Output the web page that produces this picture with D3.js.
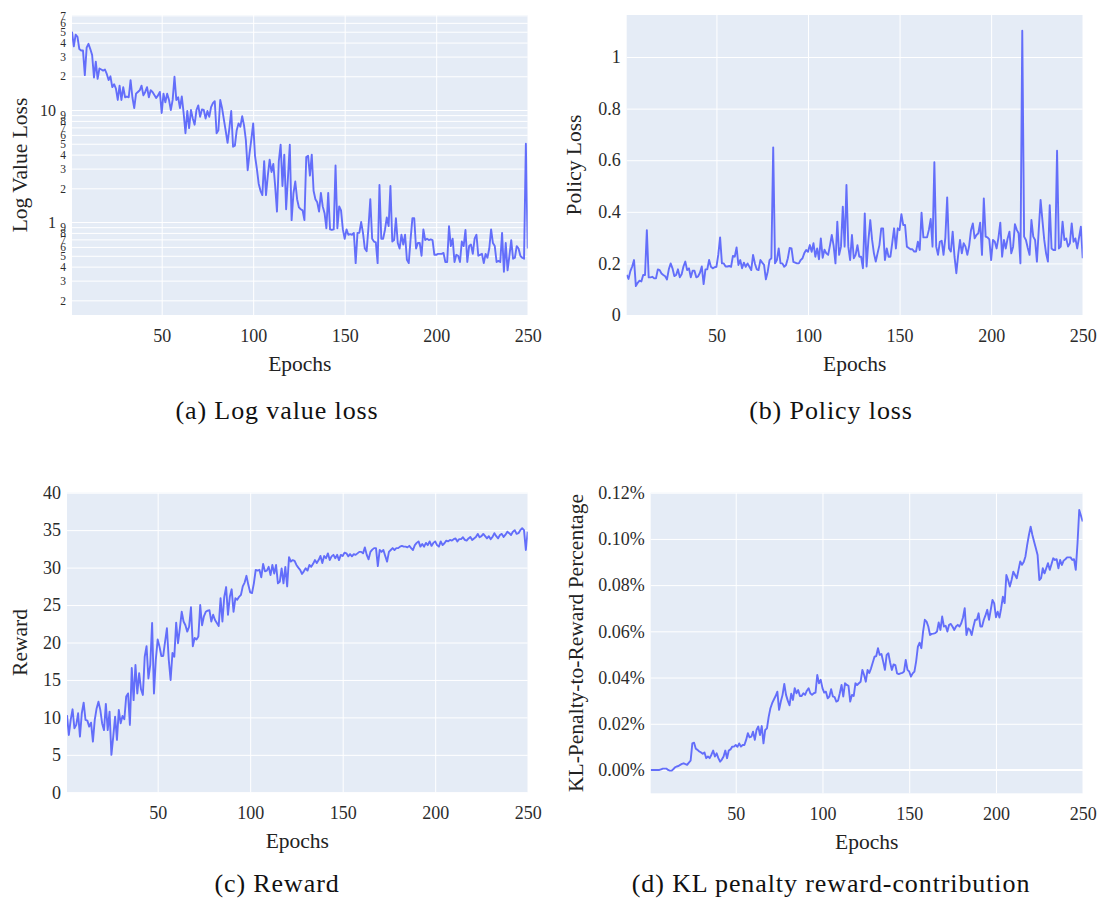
<!DOCTYPE html>
<html>
<head>
<meta charset="utf-8">
<script src="https://cdn.jsdelivr.net/npm/d3@7"></script>
<style>
  body { margin: 0; background: #fff; }
  svg { display: block; font-family: "Liberation Serif", "Times New Roman", serif; }
  svg text { font-family: "Liberation Serif", "Times New Roman", serif; }
</style>
</head>
<body>
<svg id="fig" width="1099" height="903"></svg>
<script>
// Training curves over 250 PPO epochs
const epochs = d3.range(1, 251);
const xTickValues = [50, 100, 150, 200, 250];

const valueLoss = [
  50, 37, 47, 45, 35, 34, 34, 20.5, 36, 39,
  35, 31, 19.5, 27, 19, 23.5, 23, 22.5, 23, 21,
  18.5, 20, 16, 17, 15.5, 12.3, 16.5, 12.3, 16, 13,
  13.2, 13, 18.5, 13, 10.4, 14, 14.5, 15, 16.5, 13.5,
  14.5, 16, 13, 15, 14.5, 13.6, 12.8, 13.5, 14.5, 9.4,
  14, 11.7, 14, 12.3, 10, 12.3, 19.8, 12.3, 13, 10.4,
  13.2, 9.4, 6.2, 9.8, 6.9, 10, 8.4, 7.4, 10, 11,
  8.7, 10.1, 10, 8.4, 9.8, 8.7, 10.6, 11.5, 12, 6.2,
  6.6, 12.3, 10.4, 8.2, 6.5, 5.1, 6.9, 9.8, 4.7, 4.8,
  6.6, 7.6, 7.1, 8.8, 7.3, 5.4, 2.9, 4.1, 5.5, 7.6,
  3.9, 3.0, 2.2, 1.9, 1.74, 3.5, 1.74, 2.6, 3.6, 2.8,
  3.3, 2.1, 1.24, 3.5, 4.9, 2.1, 4.0, 1.3, 2.5, 4.9,
  1.04, 1.8, 2.3, 1.6, 1.35, 1.3, 1.27, 1.04, 3.8, 3.9,
  2.6, 4.0, 1.9, 1.6, 1.5, 1.24, 1.82, 1.38, 1.2, 0.88,
  1.82, 0.86, 0.85, 0.86, 3.2, 0.88, 1.38, 1.27, 0.86, 0.71,
  0.86, 0.77, 0.78, 0.77, 0.8, 0.43, 0.8, 0.8, 1.0, 0.8,
  0.58, 0.55, 0.9, 1.6, 0.71, 0.67, 0.66, 0.43, 2.14, 0.71,
  0.71, 0.85, 1.1, 0.92, 2.1, 0.67, 0.69, 1.08, 0.65, 0.58,
  0.77, 0.63, 0.77, 0.46, 0.43, 0.7, 1.08, 1.08, 0.58, 0.65,
  0.65, 0.5, 0.86, 0.69, 0.71, 0.69, 0.7, 0.69, 0.51, 0.51,
  0.52, 0.52, 0.52, 0.53, 0.44, 0.44, 0.92, 0.61, 0.71, 0.44,
  0.51, 0.5, 0.44, 0.67, 0.61, 0.85, 0.44, 0.61, 0.63, 0.52,
  0.71, 0.77, 0.5, 0.51, 0.52, 0.43, 0.52, 0.48, 0.58, 0.86,
  0.65, 0.61, 0.44, 0.45, 0.44, 0.8, 0.36, 0.65, 0.37, 0.5,
  0.69, 0.47, 0.48, 0.61, 0.58, 0.5, 0.48, 0.47, 5.0, 0.58
];

const policyLoss = [
  0.155, 0.14, 0.17, 0.188, 0.213, 0.112, 0.125, 0.133, 0.13, 0.155,
  0.155, 0.329, 0.146, 0.146, 0.148, 0.142, 0.142, 0.177, 0.174, 0.161,
  0.155, 0.15, 0.138, 0.177, 0.2, 0.181, 0.151, 0.155, 0.177, 0.146,
  0.158, 0.188, 0.207, 0.174, 0.181, 0.146, 0.172, 0.172, 0.146, 0.15,
  0.164, 0.188, 0.12, 0.177, 0.177, 0.213, 0.187, 0.181, 0.185, 0.187,
  0.233, 0.301, 0.2, 0.2, 0.188, 0.188, 0.19, 0.187, 0.229, 0.226,
  0.262, 0.194, 0.213, 0.181, 0.203, 0.187, 0.2, 0.187, 0.174, 0.233,
  0.2, 0.177, 0.174, 0.213, 0.203, 0.194, 0.138, 0.168, 0.213, 0.22,
  0.65, 0.2, 0.213, 0.258, 0.2, 0.2, 0.187, 0.194, 0.22, 0.26,
  0.258, 0.206, 0.203, 0.2, 0.2, 0.213, 0.22, 0.24, 0.252, 0.245,
  0.271, 0.245, 0.278, 0.226, 0.258, 0.216, 0.297, 0.222, 0.253, 0.239,
  0.233, 0.27, 0.31, 0.268, 0.2, 0.362, 0.233, 0.265, 0.42, 0.265,
  0.504, 0.265, 0.213, 0.31, 0.22, 0.233, 0.271, 0.226, 0.226, 0.181,
  0.394, 0.188, 0.291, 0.368, 0.291, 0.239, 0.207, 0.24, 0.271, 0.336,
  0.336, 0.213, 0.258, 0.226, 0.226, 0.28, 0.336, 0.258, 0.336, 0.329,
  0.391, 0.349, 0.349, 0.265, 0.26, 0.255, 0.255, 0.246, 0.246, 0.284,
  0.252, 0.397, 0.301, 0.301, 0.301, 0.33, 0.372, 0.265, 0.592, 0.265,
  0.233, 0.284, 0.288, 0.233, 0.3, 0.456, 0.258, 0.246, 0.323, 0.226,
  0.162, 0.233, 0.291, 0.239, 0.278, 0.265, 0.233, 0.268, 0.329, 0.355,
  0.297, 0.31, 0.317, 0.358, 0.233, 0.452, 0.304, 0.301, 0.293, 0.213,
  0.291, 0.284, 0.258, 0.3, 0.358, 0.226, 0.291, 0.258, 0.297, 0.323,
  0.239, 0.265, 0.352, 0.33, 0.317, 0.2, 1.102, 0.304, 0.291, 0.26,
  0.233, 0.368, 0.304, 0.291, 0.207, 0.33, 0.446, 0.368, 0.291, 0.239,
  0.207, 0.426, 0.258, 0.252, 0.252, 0.637, 0.258, 0.265, 0.362, 0.291,
  0.297, 0.265, 0.278, 0.355, 0.284, 0.297, 0.258, 0.3, 0.342, 0.22
];

const reward = [
  10.3, 7.65, 9.66, 11.08, 8.55, 9.0, 10.55, 7.43, 10.55, 11.97,
  9.66, 9.57, 8.77, 9.3, 6.77, 9.66, 11.2, 12.1, 11.0, 9.2,
  8.3, 11.8, 8.3, 10.77, 5.0, 7.43, 10.1, 7.0, 11.0, 9.2,
  10.2, 9.75, 12.8, 13.2, 9.0, 16.6, 12.3, 17.0, 13.2, 15.9,
  13.75, 13.0, 18.1, 19.5, 15.2, 17.0, 22.6, 13.2, 17.7, 20.4,
  19.45, 18.2, 18.2, 20.1, 21.9, 17.7, 15.0, 18.6, 18.1, 22.65,
  19.9, 21.9, 24.1, 22.8, 22.3, 21.45, 22.1, 24.7, 19.5, 20.6,
  20.4, 20.8, 25.0, 22.3, 23.5, 24.1, 24.25, 24.3, 22.8, 23.7,
  23.0, 22.6, 22.2, 25.9, 22.8, 26.1, 27.4, 23.7, 26.1, 27.1,
  24.1, 25.9, 25.7, 26.1, 26.35, 27.5, 28.0, 28.9, 27.7, 26.7,
  26.6, 27.9, 29.7, 29.6, 29.7, 28.7, 30.5, 29.5, 29.6, 30.1,
  29.0, 30.35, 29.2, 30.35, 27.9, 28.1, 29.9, 27.9, 30.1, 27.5,
  31.4, 30.8, 31.0, 30.9, 30.35, 30.0, 29.7, 29.15, 29.5, 29.9,
  29.6, 30.35, 30.1, 30.5, 31.0, 30.6, 31.0, 31.55, 30.6, 31.55,
  31.25, 31.9, 31.0, 31.5, 31.7, 31.25, 31.7, 31.0, 31.7, 31.55,
  32.0, 31.9, 31.5, 31.8, 31.5, 31.8, 31.7, 31.9, 32.1, 32.1,
  31.9, 32.7, 31.7, 31.1, 32.1, 32.4, 32.6, 32.6, 30.2, 32.35,
  32.1, 32.35, 31.55, 30.8, 32.1, 32.35, 32.6, 32.35, 32.6, 32.6,
  32.8, 32.9, 32.8, 32.8, 32.7, 32.9, 32.6, 32.35, 33.0, 33.3,
  33.5, 32.8, 33.15, 32.8, 33.3, 33.0, 33.5, 32.9, 33.3, 33.5,
  33.0, 32.8, 33.5, 33.0, 33.25, 33.6, 33.5, 33.7, 33.6, 33.8,
  33.9, 33.5, 33.8, 33.8, 34.05, 33.7, 33.6, 33.9, 34.1, 33.7,
  33.9, 34.1, 34.5, 34.05, 34.2, 34.5, 34.2, 33.9, 34.2, 33.8,
  34.1, 34.6, 34.2, 33.9, 34.35, 34.5, 34.1, 34.4, 34.8, 34.6,
  34.35, 34.8, 35.0, 34.5, 34.6, 35.0, 35.25, 35.0, 32.35, 34.8
];

// KL penalty as a percentage of the reward
const klPenaltyPct = [
  0, 0, 0, 0, 0, 0, 0.0003, 0.0006, 0.0006, 0.0006,
  0, -0.0003, -0.0003, 0.0003, 0.0011, 0.0015, 0.0017, 0.0022, 0.0026, 0.0029,
  0.0025, 0.0022, 0.0032, 0.004, 0.0115, 0.0118, 0.0092, 0.0087, 0.008, 0.0076,
  0.007, 0.0076, 0.0051, 0.0058, 0.0051, 0.0066, 0.0084, 0.0058, 0.0072, 0.0051,
  0.0036, 0.0045, 0.0058, 0.0084, 0.0051, 0.0084, 0.0089, 0.0101, 0.0101, 0.0108,
  0.01, 0.0115, 0.0101, 0.0108, 0.0108, 0.013, 0.0159, 0.0141, 0.0144, 0.0166,
  0.013, 0.0173, 0.0188, 0.0151, 0.019, 0.0115, 0.0173, 0.018, 0.023, 0.0267,
  0.0289, 0.0305, 0.032, 0.0339, 0.026, 0.0296, 0.0325, 0.0372, 0.0325, 0.03,
  0.028, 0.033, 0.0303, 0.0354, 0.0332, 0.0346, 0.032, 0.032, 0.0332, 0.0325,
  0.0343, 0.0354, 0.0332, 0.0325, 0.0332, 0.0335, 0.0411, 0.0375, 0.039, 0.0354,
  0.0335, 0.0339, 0.031, 0.0318, 0.035, 0.0318, 0.0315, 0.0296, 0.03, 0.0332,
  0.0368, 0.0318, 0.0375, 0.0368, 0.0364, 0.0296, 0.0325, 0.032, 0.0375, 0.0368,
  0.0375, 0.0382, 0.0433, 0.0411, 0.0382, 0.0433, 0.042, 0.044, 0.0465, 0.049,
  0.0493, 0.0527, 0.0498, 0.0502, 0.0469, 0.0433, 0.0498, 0.0505, 0.0465, 0.0433,
  0.0457, 0.0454, 0.0418, 0.0415, 0.0418, 0.042, 0.0426, 0.0476, 0.0433, 0.0426,
  0.0404, 0.0418, 0.0426, 0.047, 0.0534, 0.0551, 0.0527, 0.0599, 0.065, 0.0642,
  0.0621, 0.0584, 0.0589, 0.059, 0.0592, 0.0599, 0.0638, 0.0606, 0.0664, 0.0621,
  0.0624, 0.0599, 0.0628, 0.0632, 0.062, 0.0606, 0.0621, 0.0628, 0.0621, 0.0635,
  0.066, 0.07, 0.0584, 0.0613, 0.0606, 0.0584, 0.062, 0.065, 0.065, 0.0678,
  0.0621, 0.0621, 0.065, 0.067, 0.0693, 0.065, 0.0693, 0.0736, 0.0721, 0.0661,
  0.0685, 0.066, 0.07, 0.075, 0.0722, 0.0844, 0.0822, 0.0794, 0.0822, 0.0858,
  0.0844, 0.083, 0.0866, 0.0902, 0.0888, 0.09, 0.0924, 0.0974, 0.1017, 0.1053,
  0.1017, 0.0988, 0.096, 0.093, 0.0822, 0.083, 0.0873, 0.0851, 0.0873, 0.0895,
  0.0866, 0.089, 0.0916, 0.0909, 0.0912, 0.0873, 0.0909, 0.0887, 0.0906, 0.0912,
  0.092, 0.092, 0.092, 0.0909, 0.0912, 0.0866, 0.098, 0.1125, 0.11, 0.1075
];

// Tick values
const lossMajorTicks = [1, 10];
const lossMinorTicks = [0.2, 0.3, 0.4, 0.5, 0.6, 0.7, 0.8, 0.9,
                        2, 3, 4, 5, 6, 7, 8, 9,
                        20, 30, 40, 50, 60, 70];
const policyTicks = [0, 0.2, 0.4, 0.6, 0.8, 1];
const rewardTicks = [0, 5, 10, 15, 20, 25, 30, 35, 40];
const klTicks = [0, 0.02, 0.04, 0.06, 0.08, 0.1, 0.12];

const SERIF = "Liberation Serif, Times New Roman, serif";
const svg = d3.select("#fig");
const BG = "#E5ECF6";
const LINE = "#636EFA";
const TICK_INK = "#2b2b2b";
const TITLE_INK = "#222";

function styleAxisText(a, size) {
  a.attr("font-family", SERIF);
  a.select(".domain").remove();
  a.selectAll("text")
    .attr("font-family", SERIF)
    .attr("font-size", size)
    .attr("fill", TICK_INK);
}

function panel(cfg) {
  const { id, box, y, values, gridTicks, yTitle, yTitleX, caption, captionX, captionY } = cfg;
  const x = d3.scaleLinear().domain([1, 250]).range([box.l, box.r]);
  y.range([box.b, box.t]);
  const w = box.r - box.l, h = box.b - box.t;
  const g = svg.append("g");

  g.append("rect")
    .attr("x", box.l).attr("y", box.t).attr("width", w).attr("height", h)
    .attr("fill", BG);

  // vertical grid
  g.append("g")
    .attr("transform", `translate(0,${box.b})`)
    .call(d3.axisBottom(x).tickValues(xTickValues).tickSize(-h).tickFormat(""))
    .call(a => {
      a.select(".domain").remove();
      a.selectAll("line").attr("stroke", "#fff").attr("stroke-width", 1);
    });

  // horizontal grid
  g.append("g")
    .attr("transform", `translate(${box.l},0)`)
    .call(d3.axisLeft(y).tickValues(gridTicks).tickSize(-w).tickFormat(""))
    .call(a => {
      a.select(".domain").remove();
      a.selectAll("line").attr("stroke", "#fff").attr("stroke-width", 1);
    });

  if (cfg.zeroLine) {
    g.append("line")
      .attr("x1", box.l).attr("x2", box.r)
      .attr("y1", y(0)).attr("y2", y(0))
      .attr("stroke", "#fff").attr("stroke-width", 2);
  }

  // series
  svg.append("clipPath").attr("id", "clip-" + id)
    .append("rect").attr("x", box.l).attr("y", box.t).attr("width", w).attr("height", h);
  g.append("path")
    .datum(values)
    .attr("clip-path", `url(#clip-${id})`)
    .attr("fill", "none")
    .attr("stroke", LINE)
    .attr("stroke-width", 1.9)
    .attr("stroke-linejoin", "round")
    .attr("d", d3.line().x((d, i) => x(epochs[i])).y(d => y(d)));

  // x tick labels
  g.append("g")
    .attr("transform", `translate(0,${box.b})`)
    .call(d3.axisBottom(x).tickValues(xTickValues).tickSize(0).tickFormat(d3.format("d")))
    .call(a => {
      styleAxisText(a, 18);
      a.selectAll("text").attr("y", 27).attr("dy", null);
    });

  // y tick labels
  if (cfg.yLabels) cfg.yLabels(g, box, y);

  // axis titles
  g.append("text")
    .attr("x", (box.l + box.r) / 2).attr("y", box.b + 56)
    .attr("text-anchor", "middle")
    .attr("font-family", SERIF)
    .attr("font-size", 21.5).attr("fill", TITLE_INK)
    .text("Epochs");
  g.append("text")
    .attr("transform", `translate(${yTitleX},${(box.t + box.b) / 2}) rotate(-90)`)
    .attr("text-anchor", "middle")
    .attr("font-family", SERIF)
    .attr("font-size", 21.5).attr("fill", TITLE_INK)
    .text(yTitle);

  // caption below the panel
  svg.append("text")
    .attr("x", captionX).attr("y", captionY)
    .attr("text-anchor", "middle")
    .attr("font-family", SERIF)
    .attr("font-size", 26).attr("letter-spacing", 0.9)
    .attr("fill", "#111")
    .text(caption);
}

function plainYLabels(ticks, fmt) {
  return (g, box, y) => {
    g.append("g")
      .attr("transform", `translate(${box.l},0)`)
      .call(d3.axisLeft(y).tickValues(ticks).tickSize(0).tickPadding(6).tickFormat(fmt))
      .call(a => styleAxisText(a, 18));
  };
}

// (a) log value loss
panel({
  id: "a",
  box: { l: 72, r: 527.7, t: 15, b: 315 },
  y: d3.scaleLog().domain([0.148, 70.5]),
  values: valueLoss,
  gridTicks: lossMajorTicks.concat(lossMinorTicks),
  yTitle: "Log Value Loss", yTitleX: 27,
  caption: "(a) Log value loss", captionX: 277, captionY: 419,
  yLabels: (g, box, y) => {
    // leading digit only between decades, full number at each decade
    g.append("g")
      .attr("transform", `translate(${box.l},0)`)
      .call(d3.axisLeft(y).tickValues(lossMinorTicks).tickSize(0).tickPadding(6)
        .tickFormat(d => String(Math.round(d / Math.pow(10, Math.floor(Math.log10(d) + 1e-9))))))
      .call(a => styleAxisText(a, 11.5));
    g.append("g")
      .attr("transform", `translate(${box.l},0)`)
      .call(d3.axisLeft(y).tickValues(lossMajorTicks).tickSize(0).tickPadding(16).tickFormat(d3.format("d")))
      .call(a => styleAxisText(a, 16));
  }
});

// (b) policy loss
panel({
  id: "b",
  box: { l: 626.7, r: 1082.7, t: 15, b: 315 },
  y: d3.scaleLinear().domain([0, 1.163]),
  values: policyLoss,
  gridTicks: policyTicks,
  yTitle: "Policy Loss", yTitleX: 581,
  caption: "(b) Policy loss", captionX: 831, captionY: 419,
  yLabels: plainYLabels(policyTicks, d => d === 0 ? "0" : d3.format("~g")(d))
});

// (c) reward
panel({
  id: "c",
  box: { l: 67, r: 527.7, t: 492.7, b: 792.3 },
  y: d3.scaleLinear().domain([0, 40]),
  values: reward,
  gridTicks: rewardTicks,
  yTitle: "Reward", yTitleX: 27,
  caption: "(c) Reward", captionX: 277, captionY: 892,
  yLabels: plainYLabels(rewardTicks, d3.format("d"))
});

// (d) KL penalty share of reward
panel({
  id: "d",
  box: { l: 650.7, r: 1082.7, t: 492.7, b: 793.3 },
  y: d3.scaleLinear().domain([-0.0101, 0.12]),
  values: klPenaltyPct,
  gridTicks: klTicks,
  zeroLine: true,
  yTitle: "KL-Penalty-to-Reward Percentage", yTitleX: 583,
  caption: "(d) KL penalty reward-contribution", captionX: 831, captionY: 892,
  yLabels: plainYLabels(klTicks, d => d.toFixed(2) + "%")
});
</script>
</body>
</html>
